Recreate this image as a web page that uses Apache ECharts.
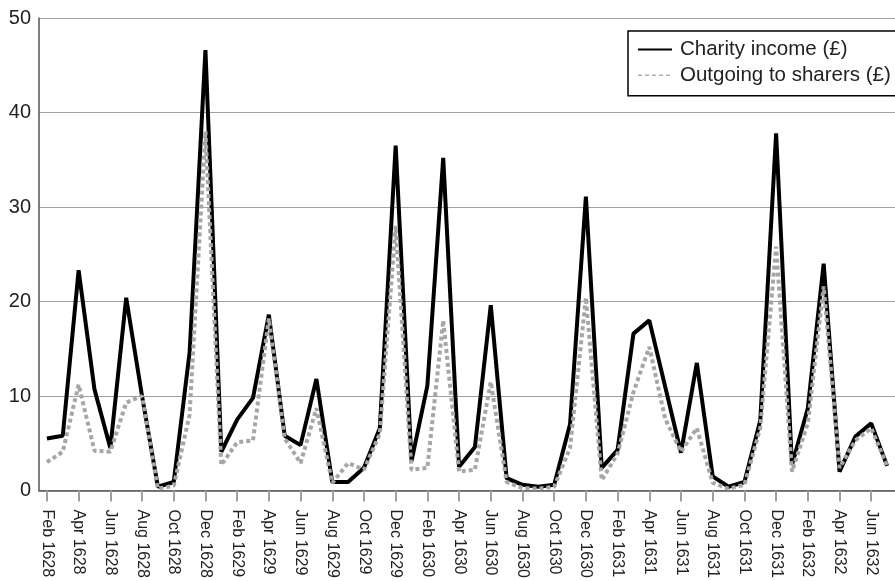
<!DOCTYPE html>
<html>
<head>
<meta charset="utf-8">
<script src="https://cdn.jsdelivr.net/npm/echarts@6/dist/echarts.min.js"></script>
<style>
html,body{margin:0;padding:0;background:#fff;}
#chart{width:895px;height:581px;}
</style>
</head>
<body>
<div id="chart"></div>
<script>
var months = [
  'Feb 1628','Mar 1628','Apr 1628','May 1628','Jun 1628','Jul 1628','Aug 1628','Sep 1628','Oct 1628','Nov 1628','Dec 1628',
  'Jan 1629','Feb 1629','Mar 1629','Apr 1629','May 1629','Jun 1629','Jul 1629','Aug 1629','Sep 1629','Oct 1629','Nov 1629','Dec 1629',
  'Jan 1630','Feb 1630','Mar 1630','Apr 1630','May 1630','Jun 1630','Jul 1630','Aug 1630','Sep 1630','Oct 1630','Nov 1630','Dec 1630',
  'Jan 1631','Feb 1631','Mar 1631','Apr 1631','May 1631','Jun 1631','Jul 1631','Aug 1631','Sep 1631','Oct 1631','Nov 1631','Dec 1631',
  'Jan 1632','Feb 1632','Mar 1632','Apr 1632','May 1632','Jun 1632','Jul 1632'
];
var charityIncome = [
  5.5, 5.8, 23.3, 10.7, 4.5, 20.4, 10.0, 0.4, 0.9, 14.6, 46.6,
  4.1, 7.5, 9.8, 18.6, 5.8, 4.8, 11.8, 0.9, 0.9, 2.4, 6.6, 36.5,
  3.1, 11.1, 35.2, 2.5, 4.6, 19.6, 1.3, 0.6, 0.4, 0.6, 7.0, 31.1,
  2.4, 4.3, 16.6, 18.0, 11.0, 4.0, 13.5, 1.5, 0.4, 0.9, 7.4, 37.8,
  2.7, 8.7, 24.0, 2.0, 5.7, 7.1, 2.6
];
var outgoingToSharers = [
  3.0, 4.1, 11.2, 4.2, 4.1, 9.3, 10.0, 0.2, 0.5, 8.0, 38.0,
  2.7, 5.1, 5.3, 18.2, 5.5, 2.9, 8.7, 0.8, 2.9, 2.2, 6.0, 28.0,
  2.2, 2.4, 18.0, 2.0, 2.2, 11.5, 0.9, 0.25, 0.2, 0.4, 4.5, 20.4,
  1.1, 3.9, 10.4, 15.2, 7.6, 4.1, 6.6, 0.8, 0.2, 0.6, 6.6, 25.8,
  2.0, 7.1, 21.6, 2.4, 5.3, 6.6, 2.6
];
var seriesNames = ['Charity income (£)', 'Outgoing to sharers (£)'];

// legend icons: tiny corner dots fix the 34x20 box, the visible mark is a thin bar / dashes in the middle
var solidIcon = 'path://M0,0h0.01v0.01h-0.01z M0,9h34v2h-34z M34,20h-0.01v-0.01h0.01z';
var dashIcon = 'path://M0,0h0.01v0.01h-0.01z M0,9.3h4v1.4h-4z M7,9.3h4v1.4h-4z M14,9.3h4v1.4h-4z M21,9.3h4v1.4h-4z M28,9.3h4v1.4h-4z M34,20h-0.01v-0.01h0.01z';

var chart = echarts.init(document.getElementById('chart'), null, {renderer: 'canvas'});
var font = '"Liberation Sans", Arial, sans-serif';
chart.setOption({
  animation: false,
  backgroundColor: '#fff',
  textStyle: {fontFamily: font},
  grid: {left: 39, right: -9, top: 18, bottom: 89, containLabel: false},
  legend: {
    orient: 'vertical',
    left: 628,
    top: 31,
    padding: [8, 10, 10, 10],
    backgroundColor: '#fff',
    borderColor: '#000',
    borderWidth: 1.5,
    itemWidth: 34,
    itemHeight: 20,
    itemGap: 4.7,
    selectedMode: false,
    textStyle: {fontSize: 20.5, color: '#222', fontFamily: font, lineHeight: 20, padding: [0, 0, 0, 3]},
    data: [
      {name: seriesNames[0], icon: solidIcon, itemStyle: {color: '#000', borderWidth: 0}},
      {name: seriesNames[1], icon: dashIcon, itemStyle: {color: '#b0b0b0', borderWidth: 0}}
    ]
  },
  xAxis: {
    type: 'category',
    data: months,
    boundaryGap: true,
    axisLine: {show: true, lineStyle: {color: '#555', width: 1.5}},
    axisTick: {show: true, alignWithLabel: true, interval: 1, length: 11, lineStyle: {color: '#a0a0a0', width: 2}},
    axisLabel: {interval: 1, rotate: -90, fontSize: 16, color: '#222', margin: 19, fontFamily: font},
    splitLine: {show: false}
  },
  yAxis: {
    type: 'value',
    min: 0, max: 50, interval: 10,
    axisLine: {show: true, lineStyle: {color: '#555', width: 1.5}},
    axisTick: {show: false},
    axisLabel: {fontSize: 20, color: '#222', margin: 8, fontFamily: font},
    splitLine: {show: true, lineStyle: {color: '#a0a0a0', width: 1}}
  },
  series: [
    {
      name: seriesNames[0], type: 'line', data: charityIncome,
      symbol: 'none', smooth: false,
      lineStyle: {color: '#000', width: 4},
      itemStyle: {color: '#000'}
    },
    {
      name: seriesNames[1], type: 'line', data: outgoingToSharers,
      symbol: 'none', smooth: false,
      lineStyle: {color: '#a6a6a6', width: 4, type: [4, 3]},
      itemStyle: {color: '#a6a6a6'}
    }
  ]
});
</script>
</body>
</html>
